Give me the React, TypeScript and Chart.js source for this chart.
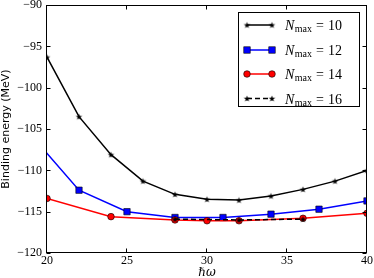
import React, { useEffect, useRef } from 'react';
import { Chart, registerables } from 'chart.js';

Chart.register(...registerables);

// hbar*omega values and binding energies (MeV)
const xN10 = [20, 22, 24, 26, 28, 30, 32, 34, 36, 38, 40];
const yN10 = [-96.3, -103.5, -108.1, -111.3, -112.9, -113.5, -113.6, -113.1, -112.3, -111.3, -110.0];
const xN12 = [19, 22, 25, 28, 31, 34, 37, 40];
const yN12 = [-105.7, -112.4, -115.0, -115.7, -115.7, -115.3, -114.7, -113.7];
const xN14 = [20, 24, 28, 30, 32, 36, 40];
const yN14 = [-113.4, -115.6, -116.0, -116.1, -116.1, -115.8, -115.2];
const xN16 = [28, 32, 36];
const yN16 = [-115.9, -116.0, -115.9];

const xTicks = [20, 25, 30, 35, 40];
const yTicks = [-120, -115, -110, -105, -100, -95, -90];
const nmaxLabels = ['10', '12', '14', '16'];

const SERIF = '"Liberation Serif", "DejaVu Serif", serif';

function makeStar(outer: number, color: string): HTMLCanvasElement {
  const size = Math.ceil(outer * 2 + 2);
  const c = document.createElement('canvas');
  c.width = size;
  c.height = size;
  const g = c.getContext('2d')!;
  const cx = size / 2;
  const cy = size / 2 + outer * 0.1;
  const inner = outer * 0.42;
  g.beginPath();
  for (let i = 0; i < 10; i++) {
    const r = i % 2 === 0 ? outer : inner;
    const a = -Math.PI / 2 + (i * Math.PI) / 5;
    const px = cx + r * Math.cos(a);
    const py = cy + r * Math.sin(a);
    if (i === 0) g.moveTo(px, py);
    else g.lineTo(px, py);
  }
  g.closePath();
  g.fillStyle = color;
  g.fill();
  return c;
}

const zip = (xs: number[], ys: number[]) => xs.map((x, i) => ({ x, y: ys[i] }));
const fmt = (v: number) => (v < 0 ? '\u2212' + Math.abs(v) : String(v));

export default function App() {
  const ref = useRef<HTMLCanvasElement>(null);
  useEffect(() => {
    document.body.style.margin = '0';
    const star = makeStar(3.4, '#000');

    const styles = [
      { color: '#000000', dash: [] as number[], marker: 'star' },
      { color: '#0000ff', dash: [] as number[], marker: 'rect' },
      { color: '#ff0000', dash: [] as number[], marker: 'circle' },
      { color: '#000000', dash: [5, 3], marker: 'star' },
    ];

    const framePlugin = {
      id: 'frame',
      afterDatasetsDraw(chart: any) {
        const { ctx, chartArea: a, scales } = chart;
        ctx.save();
        ctx.strokeStyle = '#000';
        ctx.lineWidth = 1;
        const L = Math.round(a.left) - 0.5;
        const R = Math.round(a.right) - 0.5;
        const T = Math.round(a.top) + 0.5;
        const B = Math.round(a.bottom) - 0.5;
        ctx.strokeRect(L, T, R - L, B - T);
        const tl = 4;
        ctx.beginPath();
        for (const v of xTicks) {
          const px = Math.round(scales.x.getPixelForValue(v)) - 0.5;
          ctx.moveTo(px, B);
          ctx.lineTo(px, B - tl);
          ctx.moveTo(px, T);
          ctx.lineTo(px, T + tl);
        }
        for (const v of yTicks) {
          const py = Math.round(scales.y.getPixelForValue(v)) + 0.5;
          ctx.moveTo(L, py);
          ctx.lineTo(L + tl, py);
          ctx.moveTo(R, py);
          ctx.lineTo(R - tl, py);
        }
        ctx.stroke();
        ctx.restore();
      },
    };

    const drawMarker = (ctx: CanvasRenderingContext2D, kind: string, x: number, y: number, color: string) => {
      if (kind === 'star') {
        ctx.drawImage(star, x - star.width / 2, y - star.height / 2);
      } else if (kind === 'rect') {
        ctx.fillStyle = color;
        ctx.fillRect(x - 3.2, y - 3.2, 6.4, 6.4);
        ctx.strokeStyle = '#000';
        ctx.lineWidth = 0.6;
        ctx.strokeRect(x - 3.2, y - 3.2, 6.4, 6.4);
      } else {
        ctx.beginPath();
        ctx.arc(x, y, 3.3, 0, Math.PI * 2);
        ctx.fillStyle = color;
        ctx.fill();
        ctx.strokeStyle = '#000';
        ctx.lineWidth = 0.6;
        ctx.stroke();
      }
    };

    const legendPlugin = {
      id: 'customLegend',
      afterDraw(chart: any) {
        const ctx: CanvasRenderingContext2D = chart.ctx;
        ctx.save();
        const bx = 238.5, by = 12.5, bw = 121, bh = 94;
        ctx.fillStyle = '#fff';
        ctx.fillRect(bx, by, bw, bh);
        ctx.strokeStyle = '#000';
        ctx.lineWidth = 1;
        ctx.strokeRect(bx, by, bw, bh);
        const rows = [25, 50, 74, 98.5];
        nmaxLabels.forEach((lab, i) => {
          const st = styles[i];
          const y = rows[i];
          const x0 = 247, x1 = 272;
          ctx.beginPath();
          ctx.setLineDash(st.dash);
          ctx.strokeStyle = st.color;
          ctx.lineWidth = 1.5;
          ctx.moveTo(x0, y);
          ctx.lineTo(x1, y);
          ctx.stroke();
          ctx.setLineDash([]);
          drawMarker(ctx, st.marker, x0, y, st.color);
          drawMarker(ctx, st.marker, x1, y, st.color);
          // text: N_max = value
          ctx.fillStyle = '#000';
          ctx.textBaseline = 'alphabetic';
          ctx.textAlign = 'left';
          let tx = 285;
          const base = y + 5;
          ctx.font = 'italic 14px ' + SERIF;
          ctx.fillText('N', tx, base);
          tx += ctx.measureText('N').width + 0.5;
          ctx.font = '10px ' + SERIF;
          ctx.fillText('max', tx, base + 2);
          tx += ctx.measureText('max').width + 4;
          ctx.font = '14px ' + SERIF;
          ctx.fillText('=', tx, base);
          tx += ctx.measureText('=').width + 4;
          ctx.fillText(lab, tx, base);
        });
        ctx.restore();
      },
    };

    const datasets = [
      { label: 'N10', data: zip(xN10, yN10) },
      { label: 'N12', data: zip(xN12, yN12) },
      { label: 'N14', data: zip(xN14, yN14) },
      { label: 'N16', data: zip(xN16, yN16) },
    ].map((d, i) => {
      const st = styles[i];
      return {
        ...d,
        borderColor: st.color,
        backgroundColor: st.color,
        borderWidth: 1.5,
        borderDash: st.dash,
        tension: 0,
        fill: false,
        showLine: true,
        pointStyle: st.marker === 'star' ? star : st.marker,
        pointRadius: st.marker === 'rect' ? 4.5 : 3.3,
        pointBorderColor: st.marker === 'star' ? st.color : '#000',
        pointBorderWidth: st.marker === 'star' ? 0 : 0.6,
        pointBackgroundColor: st.color,
        order: 4 - i,
        clip: 0,
      };
    });

    const chart = new Chart(ref.current!, {
      type: 'scatter',
      data: { datasets: datasets as any },
      options: {
        animation: false,
        responsive: true,
        maintainAspectRatio: false,
        layout: { padding: { left: 0, top: 5, right: 7, bottom: 0 } },
        plugins: { legend: { display: false }, tooltip: { enabled: false } },
        scales: {
          x: {
            type: 'linear',
            min: 20,
            max: 40,
            grid: { display: false, drawTicks: false },
            border: { display: false },
            afterBuildTicks: (s: any) => { s.ticks = xTicks.map((v) => ({ value: v })); },
            afterFit: (s: any) => { s.height = 25; s.paddingLeft = 0; s.paddingRight = 0; },
            ticks: {
              color: '#000',
              padding: 2,
              maxRotation: 0,
              autoSkip: false,
              font: { family: SERIF, size: 12, lineHeight: 1 },
              callback: (v: any) => fmt(Number(v)),
            },
            title: {
              display: true,
              text: '\u210F\u03C9',
              color: '#000',
              padding: 0,
              font: { family: '"DejaVu Serif", serif', size: 12, style: 'italic', lineHeight: '10px' as any },
            },
          },
          y: {
            type: 'linear',
            min: -120,
            max: -90,
            grid: { display: false, drawTicks: false },
            border: { display: false },
            afterBuildTicks: (s: any) => { s.ticks = yTicks.map((v) => ({ value: v })); },
            afterFit: (s: any) => { s.width = 47; s.paddingTop = 0; s.paddingBottom = 0; },
            ticks: {
              color: '#000',
              padding: 5,
              autoSkip: false,
              font: { family: SERIF, size: 12, lineHeight: 1 },
              callback: (v: any) => fmt(Number(v)),
            },
            title: {
              display: true,
              text: 'Binding energy (MeV)',
              color: '#000',
              padding: 0,
              font: { family: '"DejaVu Sans", sans-serif', size: 11, lineHeight: '12px' as any },
            },
          },
        },
      },
      plugins: [framePlugin, legendPlugin],
    });
    return () => chart.destroy();
  }, []);

  return (
    <div style={{ position: 'fixed', left: 0, top: 0, width: 374, height: 278 }}>
      <canvas ref={ref} />
    </div>
  );
}
